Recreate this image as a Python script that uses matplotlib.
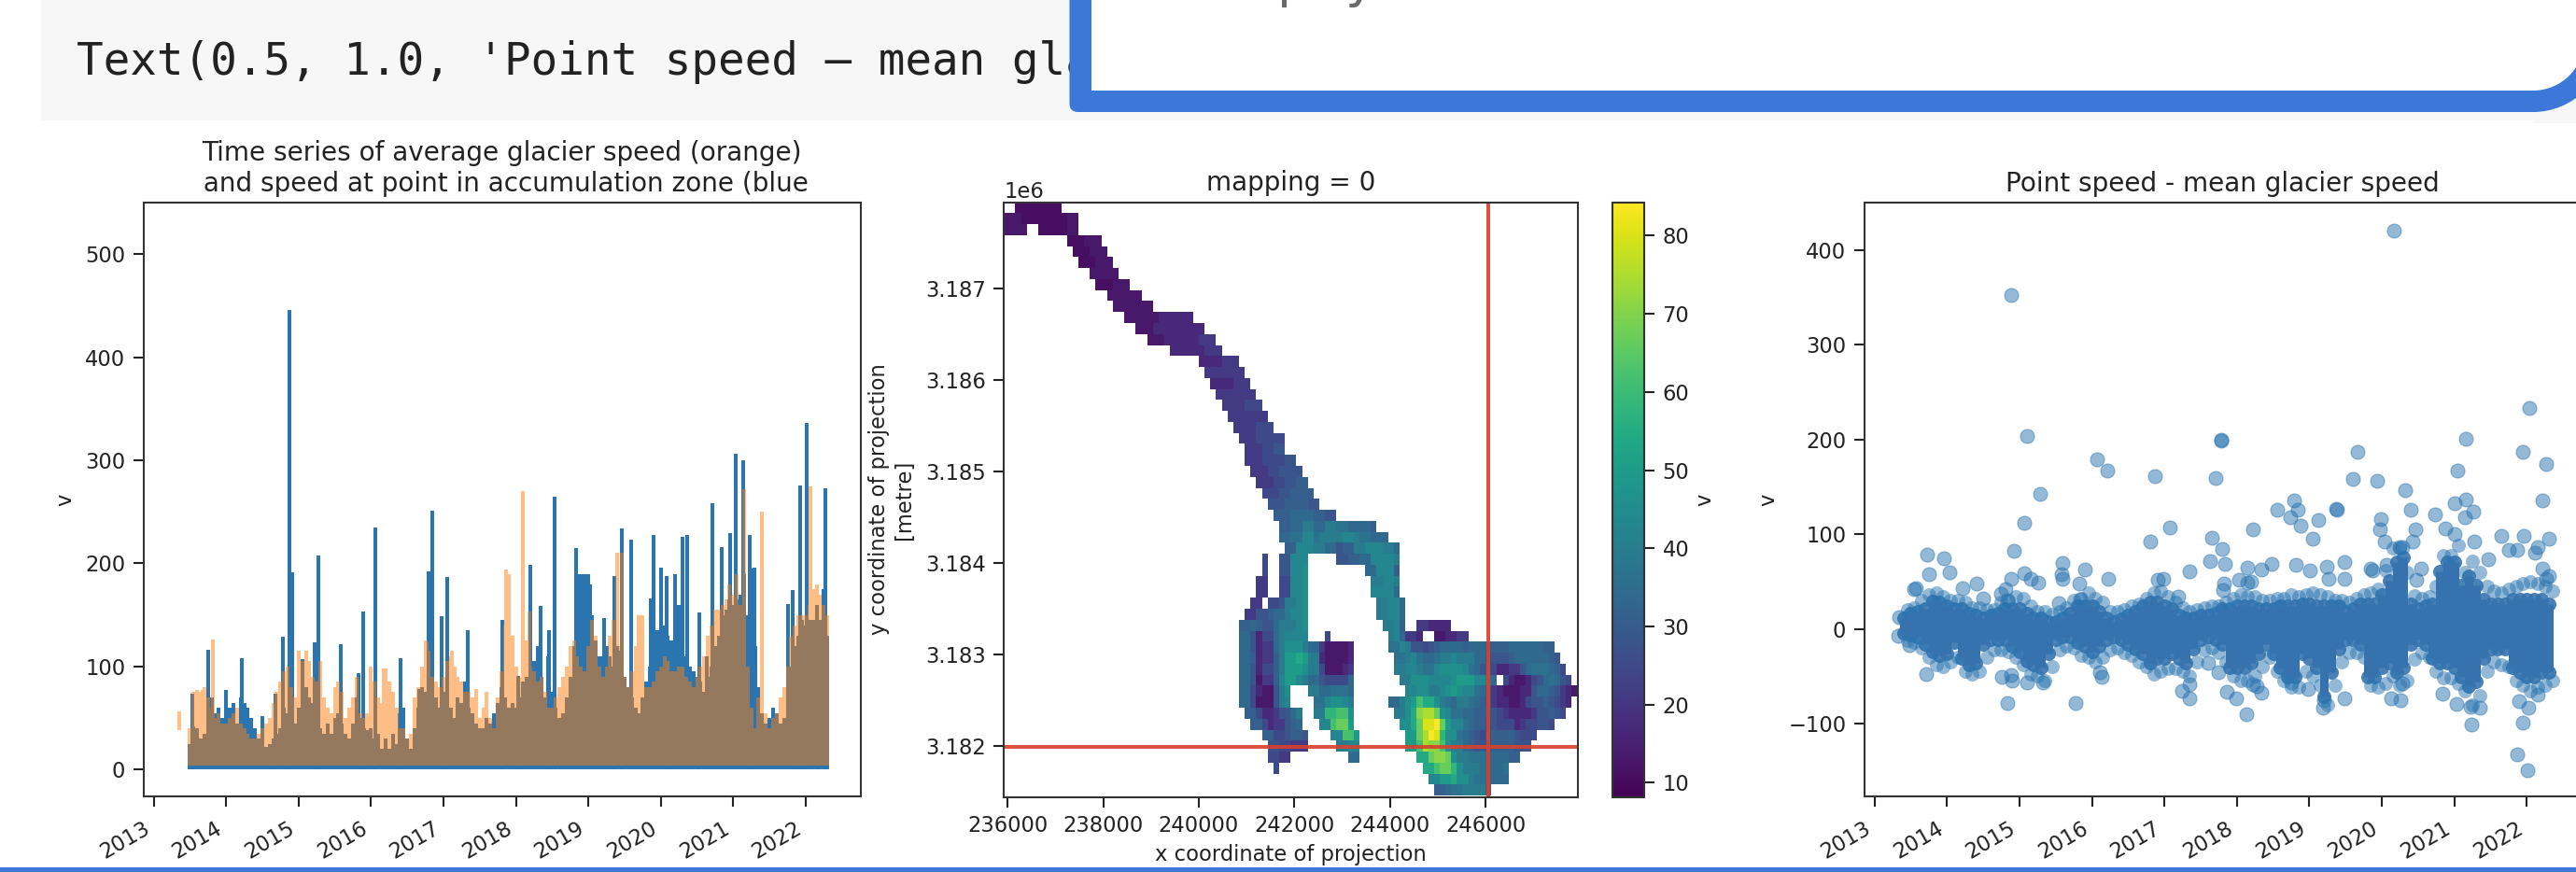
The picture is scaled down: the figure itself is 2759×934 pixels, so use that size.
import matplotlib
matplotlib.use('Agg')
import matplotlib.pyplot as plt
import numpy as np
from matplotlib.patches import FancyBboxPatch, Rectangle, Wedge

W, H = 2759, 934
BLUE = '#2a74b0'
ORANGE = '#ff7f0e'
BOX = '#3c78d8'
TEXT = '#222222'

YEARS = [2013, 2014, 2015, 2016, 2017, 2018, 2019, 2020, 2021, 2022]

# --- left panel: isolated spikes (year, speed)
blue_spike_t = [2013.54, 2013.75, 2014.0, 2014.22, 2014.5, 2014.68, 2014.79, 2014.88, 2014.91, 2015.05, 2015.22,
                2015.28, 2015.58, 2015.83, 2015.89, 2016.06, 2016.41, 2016.67, 2016.79, 2016.85, 2016.97, 2017.05,
                2017.34, 2017.81, 2018.03, 2018.2, 2018.34, 2018.46, 2018.54, 2018.83, 2019.02, 2019.22, 2019.36,
                2019.46, 2019.59, 2019.86, 2019.9, 2020.0, 2020.08, 2020.2, 2020.3, 2020.37, 2020.53, 2020.63,
                2020.71, 2020.84, 2020.96, 2021.03, 2021.14, 2021.23, 2021.29, 2021.75, 2021.82, 2021.92, 2022.01,
                2022.18, 2022.27]
blue_spike_v = [74, 116, 77, 108, 52, 74, 129, 446, 191, 107, 123,
                208, 122, 94, 153, 235, 108, 78, 192, 251, 149, 187,
                135, 145, 91, 199, 159, 135, 265, 215, 180, 147, 188,
                234, 223, 166, 228, 196, 188, 190, 226, 228, 152, 110,
                258, 216, 229, 306, 300, 228, 196, 161, 174, 276, 336,
                145, 273]
orange_spike_t = [2013.67, 2013.82, 2015.1, 2015.3, 2016.0, 2016.18, 2016.77, 2017.12, 2017.45, 2017.87, 2018.1,
                  2018.19, 2019.46, 2019.75, 2021.15, 2021.4, 2022.07]
orange_spike_v = [77, 126, 115, 105, 100, 98, 123, 115, 78, 194, 270,
                  153, 210, 150, 272, 250, 275]
orange_first_t = [2013.35, 2013.35]
orange_first_v = [40, 55]

# top of the dense part, one value every 0.05 year
blue_start = 2013.5
blue_peaks = [25, 42, 40, 30, 35, 45, 70, 55, 60, 50,
              55, 60, 65, 45, 70, 65, 60, 50, 40, 30, 28, 22, 25, 30, 35, 40, 60, 55, 50, 45,
              60, 55, 80, 70, 65, 60, 40, 35, 45, 35, 50, 55, 45, 35, 30, 45, 70, 50, 40, 38,
              40, 30, 35, 20, 30, 20, 35, 25, 55, 60, 30, 20, 40, 60, 80, 75, 70, 85, 70, 60,
              75, 95, 60, 50, 70, 65, 85, 60, 55, 45, 40, 40, 50, 45, 55, 65, 80, 70, 60, 65,
              60, 70, 85, 90, 75, 105, 120, 90, 70, 110, 75, 60, 50, 55, 70, 90, 120, 190, 190, 190,
              190, 150, 125, 110, 110, 120, 110, 100, 120, 115, 90, 80, 70, 60, 55, 70, 85, 100, 130, 135,
              150, 140, 130, 125, 130, 160, 150, 110, 100, 95, 90, 85, 75, 90, 100, 120, 130, 150, 155, 165,
              160, 165, 170, 190, 150, 195, 120, 80, 55, 45, 50, 60, 55, 45, 50, 60, 100, 120, 130, 145,
              140, 145, 145, 160, 145, 175, 130]
orange_start = 2013.5
orange_peaks = [40, 75, 77, 75, 80, 70, 60, 50, 55, 45,
                45, 50, 55, 60, 45, 40, 35, 30, 30, 35, 40, 45, 50, 65, 75, 85, 95, 100, 80, 70,
                115, 105, 100, 105, 90, 85, 70, 70, 60, 55, 80, 85, 75, 50, 60, 70, 90, 55, 50, 55,
                100, 85, 70, 65, 98, 85, 75, 60, 40, 40, 30, 35, 70, 80, 100, 125, 115, 90, 85, 80,
                90, 105, 110, 100, 90, 85, 75, 75, 70, 55, 50, 60, 75, 50, 40, 70, 95, 140, 190, 130,
                100, 90, 150, 125, 100, 95, 85, 90, 75, 60, 60, 70, 80, 90, 100, 120, 125, 110, 100, 95,
                120, 145, 130, 100, 90, 100, 130, 145, 210, 120, 90, 80, 95, 120, 150, 110, 80, 80, 85, 95,
                100, 110, 105, 95, 95, 100, 100, 90, 85, 80, 90, 100, 110, 130, 140, 155, 155, 160, 165, 180,
                170, 190, 160, 130, 100, 60, 40, 70, 65, 55, 40, 50, 55, 70, 80, 100, 130, 140, 150, 150,
                150, 160, 175, 180, 170, 160, 150]
blue_low = 2
orange_low = 6

# --- middle panel: speed levels and glacier cells per row, (first col, end col, levels)
LEVELS = dict(a=11, b=13, c=17, d=21, e=25, f=28, g=31, h=34, i=37, j=40, k=43, l=46, m=50,
              n=54, o=58, p=62, q=67, r=71, s=75, t=80, u=84)
glacier_rows = [
    [(2, 10, "aa")],
    [(0, 13, "baaab")],
    [(0, 4, "b"), (6, 13, "aab")],
    [(11, 17, "ab")],
    [(12, 18, "ab")],
    [(13, 19, "ab")],
    [(15, 20, "bb")],
    [(16, 22, "ab")],
    [(18, 24, "bb")],
    [(19, 26, "bb")],
    [(21, 33, "bbcc")],
    [(23, 35, "bccc")],
    [(25, 37, "bccd")],
    [(29, 38, "ccd")],
    [(34, 41, "cd")],
    [(35, 42, "dd")],
    [(36, 43, "cd")],
    [(37, 44, "dd")],
    [(38, 45, "de")],
    [(39, 46, "dd")],
    [(40, 47, "de")],
    [(41, 49, "dee")],
    [(42, 49, "def")],
    [(42, 51, "deef")],
    [(43, 52, "deff")],
    [(44, 53, "defg")],
    [(45, 54, "efgg")],
    [(46, 55, "fggf")],
    [(47, 58, "ghhgf")],
    [(48, 65, "ghjhjihhg")],
    [(48, 67, "hikijjkjihh")],
    [(49, 69, "gkkjhfgjkkjh")],
    [(45, 46, "e"), (48, 53, "fkk"), (58, 69, "fghkkj")],
    [(45, 46, "e"), (48, 53, "fkl"), (63, 69, "hkkg")],
    [(44, 46, "d"), (48, 53, "ekl"), (64, 69, "jkj")],
    [(44, 46, "d"), (48, 53, "ekl"), (64, 69, "kkh")],
    [(43, 45, "d"), (46, 53, "efjkl"), (65, 70, "jkh")],
    [(42, 53, "dfghjkl"), (65, 70, "jkh")],
    [(41, 53, "ghgfhjjkl"), (66, 70, "jkg"), (72, 78, "dcc")],
    [(41, 53, "hfcehjkkk"), (56, 57, "e"), (67, 73, "jkhddc"), (75, 81, "bbccdd")],
    [(41, 61, "hfcdhjlljhdbbbc"), (67, 96, "ikjfefghhhghhggghhhhhgg")],
    [(41, 61, "hgcdgjmnmjcbbbc"), (68, 97, "ijkihijjkjjhhfffghhhhhgf")],
    [(41, 61, "hfcegjmmljebbcd"), (68, 98, "jkkjiklllkihfeccdfhiihge")],
    [(41, 61, "hfbdgkmkjhfeeeh"), (69, 86, "jllkkklmmkih"), (87, 99, "ecbbcefhihfe")],
    [(41, 50, "hecbfjl"), (53, 61, "jhhiiih"), (70, 100, "klljjklmlkihfdcbbbcfhhgfdcb")],
    [(41, 50, "hebbfjk"), (54, 61, "iklkj"), (67, 99, "hjlmpnljihjihgfdcbbcefgfedc")],
    [(42, 52, "gecdfhj"), (54, 61, "jopl"), (68, 98, "jlnrsqlkihhggfedcccdfgfe")],
    [(43, 52, "gecdfgh"), (55, 61, "kpqm"), (69, 96, "lnqtuqmkihgffeecdeffe")],
    [(45, 53, "gefgf"), (57, 62, "kpm"), (70, 93, "mqsutolihgfefgggfeee")],
    [(46, 53, "fedd"), (58, 62, "jk"), (70, 92, "mpsrpljhgffgggfff")],
    [(46, 50, "ed"), (60, 62, "h"), (72, 90, "nqrqljiihhhgg")],
    [(47, 48, "e"), (73, 88, "npqoljjihhi")],
    [(74, 88, "kmnljihhh")],
    [(75, 85, "ghiijjjg")],
]

# --- right panel: single points off the band
diff_t = [2013.34, 2013.33, 2013.48, 2013.57, 2013.55, 2013.73, 2013.75, 2013.71, 2013.96, 2014.04, 2014.22, 2014.41,
          2014.5, 2014.75, 2014.81, 2014.84, 2014.88, 2014.93, 2014.88, 2015.06, 2015.15, 2015.26, 2015.11, 2015.29,
          2015.07, 2014.76, 2014.88, 2014.9, 2014.83, 2015.1, 2015.32, 2015.54, 2015.6, 2015.58, 2015.59, 2015.82,
          2015.84, 2015.9, 2016.22, 2016.07, 2016.21, 2015.77, 2016.11, 2016.13, 2016.87, 2016.8, 2017.07, 2016.91,
          2016.99, 2017.19, 2017.35, 2017.7, 2017.78, 2017.78, 2017.66, 2017.63, 2017.8, 2017.83, 2017.82, 2017.81,
          2018.22, 2018.14, 2018.34, 2018.48, 2018.03, 2018.14, 2018.2, 2018.56, 2018.79, 2018.84, 2018.74, 2018.88,
          2018.81, 2019.01, 2019.04, 2019.12, 2019.37, 2019.38, 2019.24, 2019.27, 2019.48, 2019.48, 2019.67, 2019.6,
          2019.93, 2020.32, 2020.4, 2019.99, 2020.46, 2019.97, 2020.04, 2020.16, 2020.73, 2020.87, 2021.0, 2021.04,
          2021.16, 2021.16, 2021.14, 2021.26, 2021.0, 2021.28, 2021.65, 2021.96, 2021.75, 2021.86, 2021.47, 2022.04,
          2021.95, 2022.26, 2022.22, 2022.3, 2022.11, 2022.15, 2022.21, 2022.26, 2022.3, 2020.54, 2020.06, 2019.84,
          2019.87, 2020.47, 2020.25, 2020.28, 2020.43, 2017.24, 2017.34, 2017.35, 2017.6, 2017.75, 2017.86, 2017.99,
          2018.13, 2018.22, 2018.27, 2018.34, 2018.75, 2018.98, 2019.19, 2019.2, 2019.48, 2020.13, 2020.26, 2020.28,
          2020.84, 2021.03, 2021.23, 2021.22, 2021.35, 2021.87, 2022.01, 2021.95, 2022.02, 2022.15, 2021.89]
diff_v = [12, -7, -17, 43, 42, 79, 58, -48, 75, 60, 43, 48,
          32, 37, 42, 30, 353, 82, 53, 59, 53, 49, 204, 143,
          112, -51, -49, -55, -78, -57, -57, 27, 70, 58, 53, 48,
          31, 63, 53, 179, 167, -78, -46, -51, 161, 92, 107, 52,
          53, 34, 61, 159, 200, 199, 96, 72, 84, 69, 48, 41,
          105, 65, 63, 69, 52, 49, 50, 126, 136, 126, 118, 109,
          68, 62, 95, 115, 127, 126, 66, 53, 71, 53, 187, 158,
          156, 147, 126, 116, 105, 105, 92, 421, 121, 106, 133, 167,
          201, 137, 118, 124, 100, 92, 98, 98, 83, 83, 74, 233,
          187, 174, 136, 95, 80, 86, 64, 53, 56, 64, 68, 64,
          62, 52, 86, 86, 92, -65, -73, -59, -36, -46, -66, -73,
          -90, -59, -61, -67, -57, -63, -83, -75, -73, -73, -75, -58,
          -68, -79, -101, -82, -83, -133, -149, -99, -83, -69, -76]

# edges of the solid band, one value every 0.1 year
band_start = 2013.4
band_upper = [11, 16, 18, 21, 29, 28,
              24, 21, 21, 16, 14, 11, 14, 16, 21, 21,
              21, 16, 11, 11, 8, 8, 11, 16, 24, 24,
              24, 18, 11, 8, 10, 14, 18, 24, 28, 28,
              24, 21, 14, 11, 11, 14, 14, 16, 21, 21,
              24, 24, 24, 21, 21, 21, 24, 24, 24, 26,
              26, 24, 24, 24, 24, 18, 21, 26, 26, 26,
              36, 51, 71, 76, 26, 21, 24, 26, 61, 71,
              71, 46, 56, 46, 31, 26, 26, 26, 31, 31,
              31, 31, 31, 26]
band_lower = [-4, -6, -8, -16, -24, -28,
              -26, -14, -31, -38, -36, -16, -11, -11, -11, -18,
              -24, -34, -38, -41, -26, -11, -8, -8, -14, -18,
              -24, -18, -11, -8, -11, -16, -21, -26, -36, -31,
              -31, -26, -31, -36, -21, -11, -8, -11, -16, -41,
              -41, -41, -36, -26, -16, -26, -41, -51, -51, -26,
              -31, -41, -71, -46, -21, -11, -11, -16, -51, -51,
              -41, -36, -46, -41, -16, -11, -16, -31, -36, -36,
              -41, -51, -61, -56, -31, -21, -21, -21, -41, -46,
              -51, -51, -46, -46]
# loose points just outside the band, half a step later
fringe_upper = [20, 22, 30, 36, 38, 34,
                30, 30, 28, 22, 22, 20, 20, 28, 30, 34,
                32, 24, 18, 18, 15, 18, 22, 30, 32, 38,
                32, 28, 18, 18, 20, 24, 26, 32, 38, 40,
                34, 28, 22, 18, 20, 22, 24, 24, 28, 32,
                36, 34, 34, 30, 30, 32, 32, 36, 34, 36,
                38, 36, 34, 30, 30, 28, 32, 36, 38, 42,
                62, 85, 85, 60, 35, 32, 34, 45, 78, 78,
                88, 60, 72, 60, 45, 40, 38, 42, 45, 48,
                50, 48, 45, 40]
fringe_lower = [-12, -14, -20, -30, -38, -40,
                -35, -30, -45, -48, -45, -30, -22, -22, -24, -30,
                -38, -48, -50, -55, -40, -22, -18, -20, -28, -30,
                -35, -30, -22, -20, -25, -28, -35, -40, -48, -45,
                -42, -42, -45, -50, -35, -22, -20, -25, -35, -50,
                -55, -55, -50, -40, -30, -45, -55, -62, -62, -45,
                -50, -60, -80, -60, -35, -25, -25, -30, -60, -62,
                -58, -50, -60, -55, -32, -25, -30, -45, -52, -52,
                -58, -65, -80, -70, -45, -35, -38, -40, -55, -60,
                -65, -62, -60, -55]


def px_axes(fig, left, top, right, bottom):
    # axes box given in image pixels
    return fig.add_axes([left / W, 1 - bottom / H, (right - left) / W, (bottom - top) / H])


def comb(t, peak, low):
    # the dense series go up to the peak and back down to the low level
    t = np.array(t, dtype=float)
    peak = np.array(peak, dtype=float)
    order = np.argsort(t)
    xs = np.repeat(t[order], 3)
    ys = np.column_stack([np.full(len(t), low), peak[order], np.full(len(t), low)]).ravel()
    return xs, ys


def style_axes(ax):
    ax.tick_params(length=8, width=1.5, labelsize=16.3, colors=TEXT, pad=6)
    for s in ax.spines.values():
        s.set_linewidth(1.5)
        s.set_color('#333333')


def year_ticks(ax):
    ax.set_xticks(YEARS)
    ax.set_xticklabels(YEARS, rotation=30, ha='right', rotation_mode='default')


plt.rcParams['font.family'] = ['DejaVu Sans']
fig = plt.figure(figsize=(W / 100, H / 100), dpi=100, facecolor='white')

# time series
ax1 = px_axes(fig, 153.7, 217.4, 921.5, 853)
blue_t = blue_start + 0.05 * np.arange(len(blue_peaks))
orange_t = orange_start + 0.05 * np.arange(len(orange_peaks))
x, y = comb(np.r_[blue_t, blue_spike_t], np.r_[blue_peaks, blue_spike_v], blue_low)
ax1.plot(x, y, color=BLUE, lw=2.8, solid_joinstyle='bevel')
x, y = comb(np.r_[orange_t, orange_spike_t], np.r_[orange_peaks, orange_spike_v], orange_low)
ax1.plot(x, y, color=ORANGE, lw=2.8, alpha=0.5, solid_joinstyle='bevel')
ax1.plot(orange_first_t, orange_first_v, color=ORANGE, lw=2.8, alpha=0.5)
ax1.set_xlim(2012.86, 2022.755)
ax1.set_ylim(-26, 549.7)
ax1.set_yticks([0, 100, 200, 300, 400, 500])
year_ticks(ax1)
style_axes(ax1)
ax1.tick_params(axis='x', pad=8)
ax1.set_ylabel('v', fontsize=16.3, color=TEXT, labelpad=7)
ax1.set_title('Time series of average glacier speed (orange)\n and speed at point in accumulation zone (blue',
              fontsize=20.1, color=TEXT, pad=9)

# map
ax2 = px_axes(fig, 1075.1, 216.5, 1690, 853.5)
speed = np.full((len(glacier_rows), 100), np.nan)
for r, segments in enumerate(glacier_rows):
    for first, end, levels in segments:
        for c in range(first, end):
            speed[r, c] = LEVELS[levels[(c - first) * len(levels) // (end - first)]]
x_edges = 235920 + 120 * np.arange(101)
y_edges = 3187938 - 120 * np.arange(len(glacier_rows) + 1)
mesh = ax2.pcolormesh(x_edges, y_edges, speed, cmap='viridis', vmin=8.2, vmax=84.3)
ax2.axvline(246055, color='#d9402c', lw=2.9, alpha=0.9)
ax2.axhline(3181985, color='#d9402c', lw=2.9, alpha=0.9)
ax2.set_xlim(235920, 247930)
ax2.set_ylim(3181444, 3187938)
ax2.set_xticks([236000, 238000, 240000, 242000, 244000, 246000])
ax2.set_yticks([3182000, 3183000, 3184000, 3185000, 3186000, 3187000])
style_axes(ax2)
ax2.yaxis.get_offset_text().set_fontsize(16.3)
ax2.yaxis.get_offset_text().set_color(TEXT)
ax2.set_xlabel('x coordinate of projection\n[metre]', fontsize=16.3, color=TEXT, labelpad=6)
ax2.set_ylabel('y coordinate of projection\n[metre]', fontsize=16.3, color=TEXT, labelpad=8)
ax2.set_title('mapping = 0', fontsize=20.1, color=TEXT, pad=9)

cax = px_axes(fig, 1726.7, 216.5, 1761, 853.5)
cbar = fig.colorbar(mesh, cax=cax)
cbar.set_ticks([10, 20, 30, 40, 50, 60, 70, 80])
style_axes(cax)
cbar.outline.set_linewidth(1.5)
cbar.set_label('v', fontsize=16.3, color=TEXT, labelpad=4)

# difference scatter
ax3 = px_axes(fig, 1996.7, 217.4, 2765, 853)
band_t = band_start + 0.1 * np.arange(len(band_upper))
ax3.vlines(band_t, band_lower, band_upper, color='#3673ae', lw=6.5)
ax3.scatter(np.r_[band_t, band_t], np.r_[band_upper, band_lower], s=117, color='#3673ae', alpha=0.9, linewidths=0)
ax3.scatter(np.r_[band_t + 0.05, band_t + 0.05], np.r_[fringe_upper, fringe_lower], s=117, color=BLUE, alpha=0.5,
            linewidths=0)
ax3.scatter(diff_t, diff_v, s=117, color=BLUE, alpha=0.5, linewidths=0.8)
ax3.set_xlim(2012.86, 2022.755)
ax3.set_ylim(-176.9, 449.9)
ax3.set_yticks([-100, 0, 100, 200, 300, 400])
year_ticks(ax3)
style_axes(ax3)
ax3.tick_params(axis='x', pad=8)
ax3.set_ylabel('v', fontsize=16.3, color=TEXT, labelpad=7)
ax3.set_title('Point speed - mean glacier speed', fontsize=20.1, color=TEXT, pad=9)

# notebook cell and the box laid over it, in image pixels
over = fig.add_axes([0, 0, 1, 1], zorder=10)
over.set_xlim(0, W)
over.set_ylim(H, 0)
over.axis('off')
over.add_patch(Rectangle((44, 0), W - 44, 129, color='#f7f7f7', lw=0, zorder=0))
over.text(82, 80, "Text(0.5, 1.0, 'Point speed \u2013 mean glacier speed')", family='DejaVu Sans Mono',
          fontsize=34.3, color='#222222', va='baseline', zorder=0.5)
over.add_patch(FancyBboxPatch((1145.5, -40), 1640, 160, boxstyle='round,pad=0,rounding_size=9', color=BOX, lw=0,
                              zorder=1))
over.add_patch(Rectangle((2713, 42), 60, 90, color='#f7f7f7', lw=0, zorder=1.1))
over.add_patch(Wedge((2713, 42), 78, 0, 90, color=BOX, lw=0, zorder=1.2))
over.add_patch(Rectangle((2713, 0), 46, 42, color='white', lw=0, zorder=1.3))
over.add_patch(Rectangle((1169, 0), 1544, 96.7, color='white', lw=0, zorder=1.3))
over.add_patch(Wedge((2713, 42), 55, 0, 90, color='white', lw=0, zorder=1.3))
over.text(1368, -4, 'p', fontsize=40, color='#6a6a6a', va='baseline', zorder=2)
over.text(1440, -4, 'y', fontsize=40, color='#6a6a6a', va='baseline', zorder=2)
over.add_patch(Rectangle((0, 929), W, 5, color=BOX, lw=0, zorder=3))

fig.savefig('out.png', dpi=100)
